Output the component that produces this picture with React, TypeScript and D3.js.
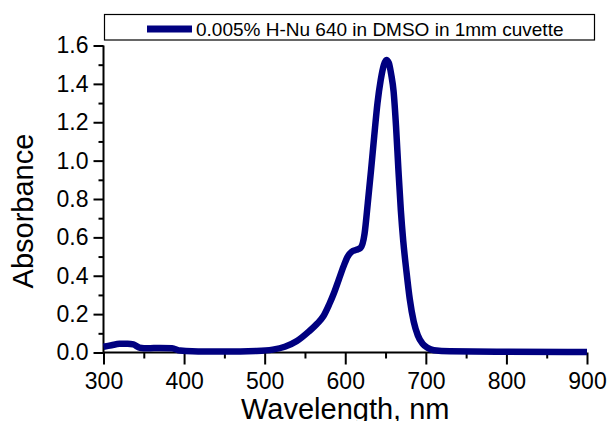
import React, { useEffect, useRef } from 'react';
import * as d3 from 'd3';

// spectrum
const wavelengths = [
  300, 310, 320, 330, 337, 345, 355, 370, 385, 395, 410, 450, 490, 510, 525, 540,
  555, 565, 573, 580, 586, 592, 598, 603, 608, 614, 619, 624, 628, 632, 636, 640,
  644, 648, 651, 654, 657, 660, 663, 666, 669, 672, 676, 680, 685, 690, 696, 702,
  710, 730, 800, 900,
];
const absorbance = [
  0.03, 0.038, 0.045, 0.046, 0.042, 0.025, 0.022, 0.024, 0.022, 0.01, 0.006, 0.005, 0.008, 0.015, 0.03, 0.06,
  0.11, 0.15, 0.19, 0.25, 0.31, 0.38, 0.45, 0.5, 0.525, 0.535, 0.545, 0.62, 0.78, 0.95, 1.13, 1.3,
  1.42, 1.5, 1.525, 1.51, 1.45, 1.36, 1.18, 0.95, 0.74, 0.58, 0.42, 0.28, 0.16, 0.09, 0.045, 0.025,
  0.012, 0.006, 0.004, 0.003,
];
const xTicks = [300, 400, 500, 600, 700, 800, 900];
const yTicks = [0, 0.2, 0.4, 0.6, 0.8, 1.0, 1.2, 1.4, 1.6];
const legendLabel = '0.005% H-Nu 640 in DMSO in 1mm cuvette';

const W = 609;
const H = 421;
const FONT = 'Liberation Sans, Arial, sans-serif';
const NAVY = '#000080';

export default function App() {
  const ref = useRef<SVGSVGElement>(null);

  useEffect(() => {
    const svg = d3.select(ref.current);
    svg.selectAll('*').remove();

    const x = d3.scaleLinear().domain([300, 900]).range([103.5, 587]);
    const y = d3.scaleLinear().domain([0, 1.6]).range([352.5, 45.5]);

    // minor ticks first, so the major ones sit on top
    const xMinor = d3.axisBottom(x).tickValues(d3.range(350, 900, 100)).tickSize(6).tickFormat(() => '');
    const yMinor = d3.axisLeft(y).tickValues(d3.range(0.1, 1.6, 0.2)).tickSize(5).tickFormat(() => '');

    const gxm = svg.append('g').attr('transform', `translate(0,${y(0)})`).call(xMinor);
    const gym = svg.append('g').attr('transform', `translate(${x(300)},0)`).call(yMinor);
    [gxm, gym].forEach(g => {
      g.select('.domain').remove();
      g.selectAll('line').attr('stroke', '#000').attr('stroke-width', 2);
    });

    const xAxis = d3.axisBottom(x).tickValues(xTicks).tickSize(12).tickPadding(8).tickFormat(d3.format('d'));
    const yAxis = d3.axisLeft(y).tickValues(yTicks).tickSize(10).tickPadding(5).tickFormat(d3.format('.1f'));

    const gx = svg.append('g').attr('transform', `translate(0,${y(0)})`).call(xAxis);
    const gy = svg.append('g').attr('transform', `translate(${x(300)},0)`).call(yAxis);
    [gx, gy].forEach(g => {
      g.select('.domain').attr('stroke', '#000').attr('stroke-width', 2);
      g.selectAll('line').attr('stroke', '#000').attr('stroke-width', 2);
      g.selectAll('text').attr('fill', '#000').style('font-family', FONT).style('font-size', '23px');
    });
    gx.select('.domain').attr('d', `M${x(300)},0H${x(900)}`);
    gy.select('.domain').attr('d', `M0,${y(0)}V${y(1.6)}`);

    // the spectrum
    const data = wavelengths.map((w, i) => [w, absorbance[i]] as [number, number]);
    const line = d3.line<[number, number]>()
      .x(d => x(d[0]))
      .y(d => y(d[1]))
      .curve(d3.curveMonotoneX);

    svg.append('path')
      .datum(data)
      .attr('d', line)
      .attr('fill', 'none')
      .attr('stroke', NAVY)
      .attr('stroke-width', 6.5)
      .attr('stroke-linejoin', 'round');

    // axis titles
    svg.append('text')
      .attr('x', (x(300) + x(900)) / 2)
      .attr('y', 418.5)
      .attr('text-anchor', 'middle')
      .style('font-family', FONT)
      .style('font-size', '29px')
      .text('Wavelength, nm');

    svg.append('text')
      .attr('transform', 'translate(33,211) rotate(-90)')
      .attr('text-anchor', 'middle')
      .style('font-family', FONT)
      .style('font-size', '29px')
      .text('Absorbance');

    // legend
    const leg = svg.append('g');
    leg.append('rect')
      .attr('x', 104.5).attr('y', 14.5)
      .attr('width', 490).attr('height', 25.5)
      .attr('fill', '#fff').attr('stroke', '#000').attr('stroke-width', 1.2);
    leg.append('line')
      .attr('x1', 147).attr('x2', 192)
      .attr('y1', 29).attr('y2', 29)
      .attr('stroke', NAVY).attr('stroke-width', 7);
    leg.append('text')
      .attr('x', 196).attr('y', 35.5)
      .style('font-family', FONT)
      .style('font-size', '19px')
      .text(legendLabel);
  }, []);

  return (
    <svg
      ref={ref}
      width={W}
      height={H}
      style={{ position: 'absolute', left: 0, top: 0, background: '#fff' }}
    />
  );
}
